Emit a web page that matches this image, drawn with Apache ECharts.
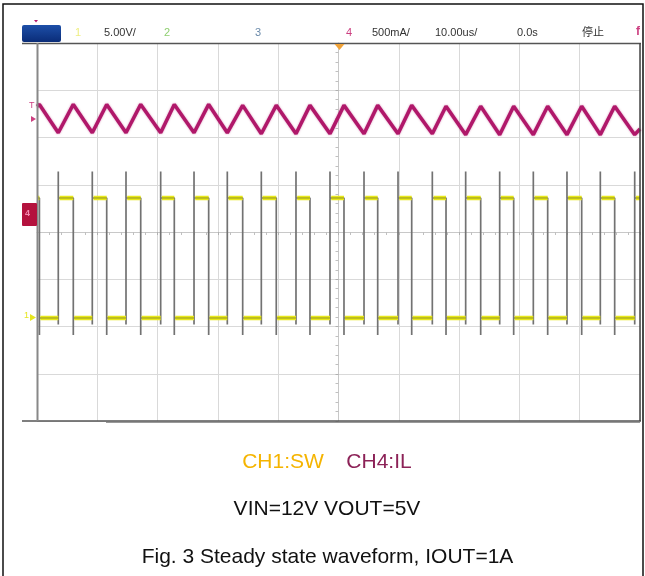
<!DOCTYPE html>
<html><head><meta charset="utf-8">
<script src="https://cdn.jsdelivr.net/npm/echarts@6/dist/echarts.min.js"></script>
<style>html,body{margin:0;padding:0;background:#fff}#c{width:645px;height:576px}</style>
</head><body><div id="c"></div>
<script>
// Time of each SW edge, microseconds from the left edge of the screen (10 us/div)
const swRise = [3.53, 9.17, 14.76, 20.51, 26.04, 31.56, 37.20, 42.95, 48.59, 54.23, 59.87, 65.56, 71.09, 76.73, 82.31, 87.89, 93.42, 99.12];
const swFall = [0.40, 6.02, 11.56, 17.20, 22.77, 28.47, 34.11, 39.68, 45.27, 50.91, 56.50, 62.14, 67.83, 73.58, 79.05, 84.69, 90.33, 95.80];
// SW node levels, volts
const swHigh = 12.7, swLow = 0, swSpike = 15.5, swRiseDip = -0.7, swUndershoot = -1.8;
// Inductor current: peaks at SW falling edges, valleys at SW rising edges, amps
const ilPeak   = [1.16, 1.16, 1.16, 1.16, 1.16, 1.16, 1.15, 1.15, 1.15, 1.15, 1.15, 1.15, 1.14, 1.14, 1.14, 1.14, 1.14, 1.14];
const ilValley = [0.86, 0.86, 0.86, 0.86, 0.86, 0.86, 0.85, 0.85, 0.85, 0.85, 0.85, 0.85, 0.84, 0.84, 0.84, 0.84, 0.84, 0.84];
const ilStart = 1.14, ilEnd = 0.90;
// Scope settings shown in the header
const chScale = { ch1: '5.00V/', ch4: '500mA/' };
const timeScale = '10.00us/';
const trigDelay = '0.0s';
const runState = '停止';
const legendCh1 = 'CH1:SW', legendCh4 = 'CH4:IL';
const condition = 'VIN=12V VOUT=5V';
const caption = 'Fig. 3 Steady state waveform, IOUT=1A';

// screen: 10 x 8 divisions; channel offsets in divisions from centre
const ch1Offset = -1.82, ch4Offset = 0.38;
const voltsPerDiv = 5, ampsPerDiv = 0.5;

// SW trace with its edges, and the flat (on/off) stretches drawn as a yellow band
const swLine = [[0, swHigh]];
const swFlat = [[0, swHigh]];
for (let i = 0; i < swFall.length; i++) {
  const f = swFall[i], r = swRise[i];
  swLine.push([f, swHigh], [f, swUndershoot], [f, swLow], [r, swLow], [r, swRiseDip], [r, swSpike], [r, swHigh]);
  swFlat.push([f, swHigh], [f, '-'], [f + 0.15, swLow], [r, swLow], [r, '-'], [r + 0.2, swHigh]);
}
swLine.push([100, swHigh]);
swFlat.push([100, swHigh]);

// Inductor current triangle
const ilLine = [[0, ilStart]];
for (let i = 0; i < swFall.length; i++) {
  ilLine.push([swFall[i], ilPeak[i]], [swRise[i], ilValley[i]]);
}
ilLine.push([100, ilEnd]);

const gridL = 37, gridT = 43, gridW = 603, gridH = 378;
const hdrFont = '11px "Liberation Sans", Arial, sans-serif';

const chart = echarts.init(document.getElementById('c'), null, { renderer: 'canvas' });
chart.setOption({
  animation: false,
  backgroundColor: '#fff',
  grid: { left: gridL, top: gridT, width: gridW, height: gridH, show: false },
  xAxis: [
    { type: 'value', min: -5, max: 5, interval: 1,
      axisLabel: { show: false },
      axisLine: { show: true, onZero: true, onZeroAxisIndex: 0, lineStyle: { color: '#c8c8c8', width: 1 } },
      axisTick: { show: true, length: 3, lineStyle: { color: '#b0b0b0' } },
      minorTick: { show: true, splitNumber: 5, length: 3, lineStyle: { color: '#c0c0c0' } },
      splitLine: { show: true, lineStyle: { color: '#d9d9d9', width: 1 } } },
    { type: 'value', min: 0, max: 100, show: false }
  ],
  yAxis: [
    { type: 'value', min: -4, max: 4, interval: 1,
      axisLabel: { show: false },
      axisLine: { show: true, onZero: true, onZeroAxisIndex: 0, lineStyle: { color: '#c8c8c8', width: 1 } },
      axisTick: { show: true, length: 3, lineStyle: { color: '#b0b0b0' } },
      minorTick: { show: true, splitNumber: 5, length: 3, lineStyle: { color: '#c0c0c0' } },
      splitLine: { show: true, lineStyle: { color: '#d9d9d9', width: 1 } } },
    { type: 'value', show: false, min: (-4 - ch1Offset) * voltsPerDiv, max: (4 - ch1Offset) * voltsPerDiv },
    { type: 'value', show: false, min: (-4 - ch4Offset) * ampsPerDiv, max: (4 - ch4Offset) * ampsPerDiv }
  ],
  series: [
    { name: 'SW', type: 'line', xAxisIndex: 1, yAxisIndex: 1, data: swLine, symbol: 'none',
      lineStyle: { color: '#727272', width: 1.7 }, z: 3 },
    { name: 'SW level', type: 'line', xAxisIndex: 1, yAxisIndex: 1, data: swFlat, symbol: 'none',
      connectNulls: false, lineStyle: { color: '#e8e81a', width: 4.5 }, z: 4 },
    { name: 'SW level core', type: 'line', xAxisIndex: 1, yAxisIndex: 1, data: swFlat, symbol: 'none',
      connectNulls: false, lineStyle: { color: '#6f6f28', width: 1, opacity: 0.7 }, z: 5 },
    { name: 'IL', type: 'line', xAxisIndex: 1, yAxisIndex: 2, data: ilLine, symbol: 'none',
      lineStyle: { color: '#b0186a', width: 3.5, shadowColor: 'rgba(176,24,106,0.5)', shadowBlur: 2 }, z: 6 }
  ],
  graphic: [
    // outer frame
    { type: 'rect', shape: { x: 3, y: 4, width: 640, height: 580 }, style: { fill: 'none', stroke: '#111', lineWidth: 1.5 }, z: 1 },
    // screen border
    { type: 'line', shape: { x1: 22, y1: 43.5, x2: 641, y2: 43.5 }, style: { stroke: '#555', lineWidth: 1.5 }, z: 10 },
    { type: 'line', shape: { x1: 22, y1: 421, x2: 641, y2: 421 }, style: { stroke: '#555', lineWidth: 1.5 }, z: 10 },
    { type: 'line', shape: { x1: 106, y1: 422.5, x2: 640, y2: 422.5 }, style: { stroke: '#999', lineWidth: 1 }, z: 10 },
    { type: 'line', shape: { x1: 37.5, y1: 43, x2: 37.5, y2: 421 }, style: { stroke: '#888', lineWidth: 2 }, z: 10 },
    { type: 'line', shape: { x1: 640, y1: 43, x2: 640, y2: 421 }, style: { stroke: '#444', lineWidth: 1.5 }, z: 10 },
    // header
    { type: 'rect', shape: { x: 22, y: 25, width: 39, height: 17, r: 2 },
      style: { fill: new echarts.graphic.LinearGradient(0, 0, 0, 1, [{ offset: 0, color: '#1d4fa8' }, { offset: 1, color: '#0a2c78' }]) }, z: 10 },
    { type: 'polygon', shape: { points: [[34, 20], [38, 20], [36, 22.5]] }, style: { fill: '#b51a6c' }, z: 10 },
    { type: 'text', x: 75, y: 27, style: { text: '1', font: hdrFont, fill: '#eeee80' }, z: 10 },
    { type: 'text', x: 104, y: 27, style: { text: chScale.ch1, font: hdrFont, fill: '#333' }, z: 10 },
    { type: 'text', x: 164, y: 27, style: { text: '2', font: hdrFont, fill: '#8fcf70' }, z: 10 },
    { type: 'text', x: 255, y: 27, style: { text: '3', font: hdrFont, fill: '#6a8aaa' }, z: 10 },
    { type: 'text', x: 346, y: 27, style: { text: '4', font: hdrFont, fill: '#cc3f80' }, z: 10 },
    { type: 'text', x: 372, y: 27, style: { text: chScale.ch4, font: hdrFont, fill: '#333' }, z: 10 },
    { type: 'text', x: 435, y: 27, style: { text: timeScale, font: hdrFont, fill: '#333' }, z: 10 },
    { type: 'text', x: 517, y: 27, style: { text: trigDelay, font: hdrFont, fill: '#333' }, z: 10 },
    { type: 'text', x: 582, y: 26, style: { text: runState, font: '11px "Noto Sans CJK SC", sans-serif', fill: '#333' }, z: 10 },
    { type: 'text', x: 636, y: 26, style: { text: 'f', font: 'bold 12px "Liberation Sans", Arial, sans-serif', fill: '#cc3f80' }, z: 10 },
    // trigger position marker
    { type: 'polygon', shape: { points: [[334.5, 44], [344.5, 44], [339.5, 50]] }, style: { fill: '#f0a238' }, z: 11 },
    // left-side channel markers
    { type: 'text', x: 29, y: 101, style: { text: 'T', font: '9px "Liberation Sans", Arial, sans-serif', fill: '#cc3f80' }, z: 10 },
    { type: 'polygon', shape: { points: [[31, 116], [36, 119], [31, 122]] }, style: { fill: '#cc3f80' }, z: 10 },
    { type: 'rect', shape: { x: 22, y: 203, width: 15, height: 23, r: 1 }, style: { fill: '#b4123e' }, z: 10 },
    { type: 'text', x: 25, y: 209, style: { text: '4', font: 'bold 9px "Liberation Sans", Arial, sans-serif', fill: '#f28ab0' }, z: 11 },
    { type: 'text', x: 24, y: 311, style: { text: '1', font: '9px "Liberation Sans", Arial, sans-serif', fill: '#e6e61e' }, z: 10 },
    { type: 'polygon', shape: { points: [[30, 314], [36, 317.5], [30, 321]] }, style: { fill: '#e6e61e' }, z: 10 },
    // legend and caption
    { type: 'text', x: 283, y: 462, style: { text: legendCh1, font: '21px "Liberation Sans", Arial, sans-serif', fill: '#f5b400', align: 'center', verticalAlign: 'middle' }, z: 10 },
    { type: 'text', x: 379, y: 462, style: { text: legendCh4, font: '21px "Liberation Sans", Arial, sans-serif', fill: '#8c2257', align: 'center', verticalAlign: 'middle' }, z: 10 },
    { type: 'text', x: 327, y: 509, style: { text: condition, font: '21px "Liberation Sans", Arial, sans-serif', fill: '#111', align: 'center', verticalAlign: 'middle' }, z: 10 },
    { type: 'text', x: 327.5, y: 557, style: { text: caption, font: '21px "Liberation Sans", Arial, sans-serif', fill: '#111', align: 'center', verticalAlign: 'middle' }, z: 10 }
  ]
});
</script></body></html>
